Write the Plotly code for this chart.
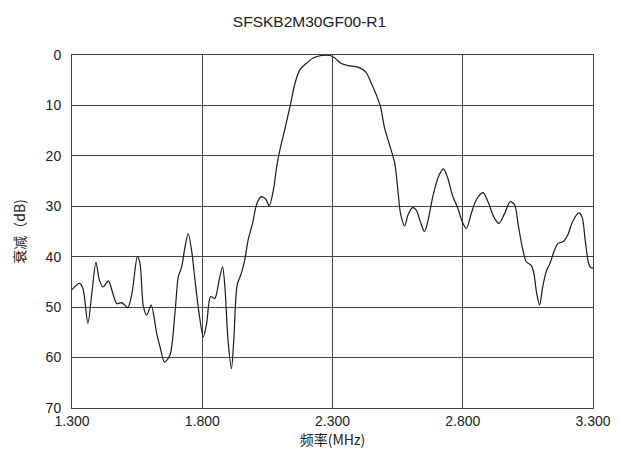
import plotly.graph_objects as go

# Attenuation response of the SFSKB2M30GF00-R1 filter
freq_mhz = [
    1.300, 1.329, 1.342, 1.361, 1.376, 1.392, 1.405, 1.419, 1.440, 1.453,
    1.472, 1.491, 1.514, 1.530, 1.551, 1.561, 1.574, 1.587, 1.604, 1.625,
    1.638, 1.655, 1.676, 1.695, 1.708, 1.721, 1.734, 1.746, 1.759, 1.772,
    1.788, 1.804, 1.817, 1.832, 1.848, 1.865, 1.878, 1.887, 1.899, 1.912,
    1.921, 1.934, 1.950, 1.963, 1.976, 1.993, 2.010, 2.027, 2.044, 2.057,
    2.073, 2.086, 2.098, 2.118, 2.137, 2.156, 2.175, 2.201, 2.226, 2.258,
    2.290, 2.309, 2.334, 2.360, 2.398, 2.428, 2.449, 2.468, 2.484, 2.500,
    2.519, 2.539, 2.551, 2.561, 2.577, 2.590, 2.606, 2.621, 2.637, 2.653,
    2.666, 2.685, 2.707, 2.726, 2.743, 2.761, 2.782, 2.799, 2.814, 2.833,
    2.852, 2.878, 2.897, 2.919, 2.939, 2.961, 2.982, 2.999, 3.012, 3.028,
    3.044, 3.063, 3.073, 3.084, 3.095, 3.107, 3.120, 3.135, 3.148, 3.165,
    3.186, 3.203, 3.222, 3.245, 3.258, 3.270, 3.283, 3.292, 3.300,
]
atten_db = [
    46.5, 45.3, 46.3, 53.2, 47.3, 41.1, 44.6, 46.0, 44.8, 46.6,
    49.3, 49.1, 50.1, 47.3, 40.0, 41.3, 49.9, 51.6, 49.6, 55.2,
    57.9, 60.9, 59.5, 51.3, 44.0, 42.0, 38.0, 35.4, 38.7, 44.6,
    51.3, 55.9, 53.2, 47.9, 48.3, 44.6, 42.0, 46.0, 56.6, 62.2,
    56.6, 45.6, 43.3, 40.7, 36.7, 33.4, 29.4, 28.1, 28.6, 29.9,
    26.8, 22.1, 18.8, 14.5, 10.2, 5.6, 2.9, 1.6, 0.6, 0.1,
    0.1, 0.6, 1.7, 2.1, 2.4, 3.4, 5.6, 7.9, 10.2, 14.5,
    17.8, 21.5, 26.8, 31.4, 33.9, 31.7, 30.3, 30.7, 33.0, 35.0,
    33.0, 28.1, 24.1, 22.6, 24.5, 27.9, 30.5, 33.2, 34.4, 31.4,
    28.7, 27.3, 29.1, 32.1, 33.4, 31.4, 29.1, 29.7, 33.4, 38.0,
    41.0, 41.7, 43.3, 47.3, 49.6, 46.0, 43.0, 41.3, 39.3, 37.4,
    37.0, 35.7, 33.0, 31.3, 32.1, 36.7, 41.3, 42.2, 42.2,
]

x_ticks = [1.3, 1.8, 2.3, 2.8, 3.3]
x_tick_labels = ["1.300", "1.800", "2.300", "2.800", "3.300"]
y_ticks = [0, 10, 20, 30, 40, 50, 60, 70]

fig = go.Figure(
    go.Scatter(
        x=freq_mhz,
        y=atten_db,
        mode="lines",
        line=dict(color="#1a1a1a", width=1.2, shape="spline", smoothing=0.8),
        hoverinfo="skip",
    )
)

latin = "Liberation Sans, Arial, sans-serif"
cjk = "Noto Sans CJK SC, sans-serif"
axis_font = dict(family=latin, size=14, color="#222")

fig.update_layout(
    width=619,
    height=450,
    margin=dict(l=72, r=26, t=55, b=42),
    paper_bgcolor="white",
    plot_bgcolor="white",
    showlegend=False,
    title=dict(
        text="SFSKB2M30GF00-R1",
        x=0.5,
        xanchor="center",
        y=1 - 22 / 450,
        yanchor="middle",
        font=dict(family=latin, size=15.5, color="#222"),
    ),
    xaxis=dict(
        range=[1.3, 3.3],
        tickvals=x_ticks,
        ticktext=x_tick_labels,
        showgrid=True,
        gridcolor="#444",
        gridwidth=1,
        zeroline=False,
        showline=True,
        linecolor="#444",
        linewidth=1,
        mirror=True,
        ticks="",
        automargin=False,
        tickfont=axis_font,
        title=dict(text="频率(MHz)", standoff=3,
                   font=dict(family=cjk, size=14, color="#222")),
    ),
    yaxis=dict(
        range=[70, 0],
        tickvals=y_ticks,
        showgrid=True,
        gridcolor="#444",
        gridwidth=1,
        zeroline=False,
        showline=True,
        linecolor="#444",
        linewidth=1,
        mirror=True,
        ticks="",
        automargin=False,
        tickfont=axis_font,
        ticklabelstandoff=7,
        title=dict(text="衰减（dB)", standoff=16,
                   font=dict(family=cjk, size=14, color="#222")),
    ),
)

fig.write_html("out.html")
